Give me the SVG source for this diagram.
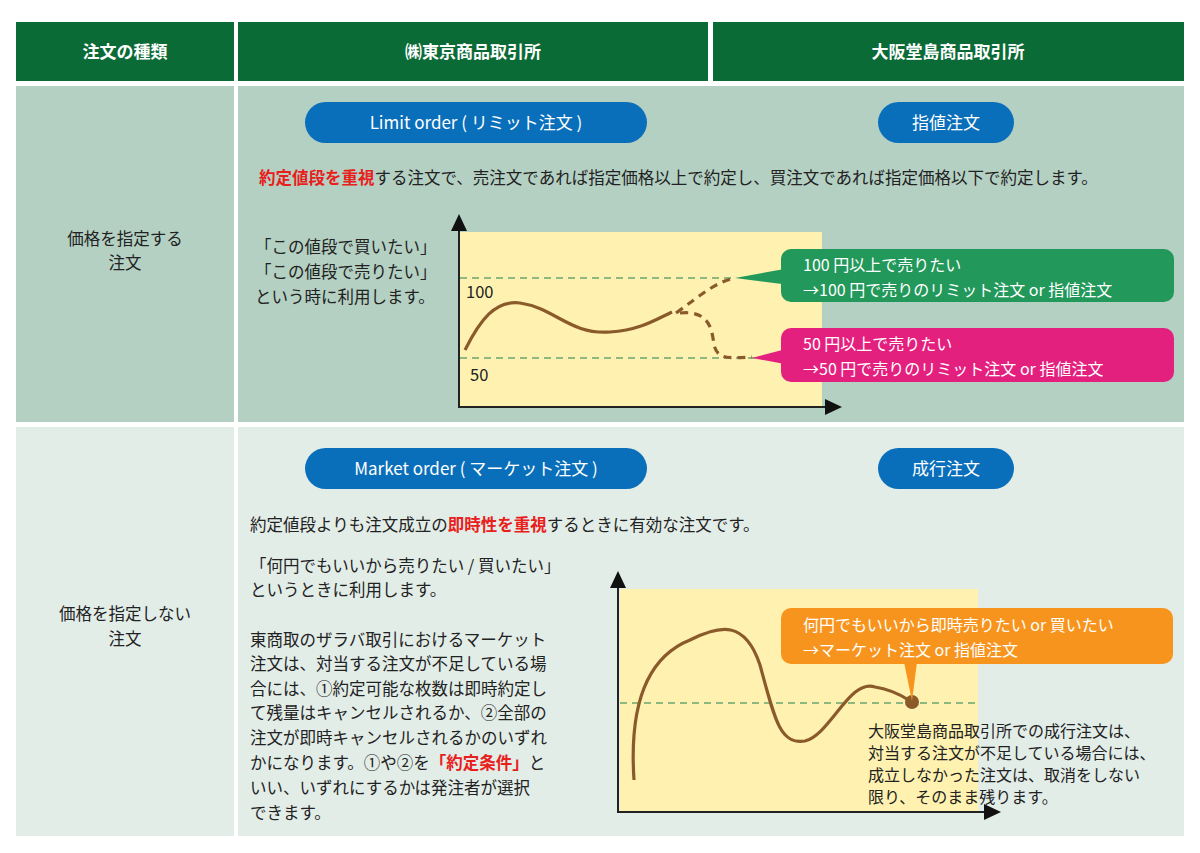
<svg xmlns="http://www.w3.org/2000/svg" width="1200" height="853" viewBox="0 0 1200 853">
<style>
text{font-family:"Noto Sans CJK JP","Noto Sans",sans-serif;font-size:16.5px;fill:#222}
.h{fill:#fff;font-weight:bold;font-size:17px}
.w{fill:#fff;font-size:17px}
.r{fill:#e8201c;font-weight:bold}
.ax{stroke:#222;stroke-width:2;fill:none}
.dash{stroke:#6aa56f;stroke-width:1.6;stroke-dasharray:7 5;fill:none}
.cur{stroke:#8b5a2b;stroke-width:3.2;fill:none}
.cd{stroke:#8b5a2b;stroke-width:3.2;fill:none;stroke-dasharray:8 6}
.pill{fill:#0a6fba}
</style>
<rect width="1200" height="853" fill="#fff"/>
<g id="header">
<rect x="16" y="22" width="218" height="59" fill="#0b6b36"/>
<rect x="238" y="22" width="470" height="59" fill="#0b6b36"/>
<rect x="713" y="22" width="471" height="59" fill="#0b6b36"/>
<text class="h" x="125" y="58" text-anchor="middle">注文の種類</text>
<text class="h" x="473" y="58" text-anchor="middle">㈱東京商品取引所</text>
<text class="h" x="948" y="58" text-anchor="middle">大阪堂島商品取引所</text>
</g>
<g id="row1">
<rect x="16" y="86" width="218" height="336" fill="#b4d0c3"/>
<rect x="238" y="86" width="946" height="336" fill="#b4d0c3"/>
<text x="125" y="245" text-anchor="middle">価格を指定する</text>
<text x="125" y="269" text-anchor="middle">注文</text>
<rect class="pill" x="305" y="102" width="342" height="41" rx="20.5"/>
<text class="w" x="476" y="129" text-anchor="middle">Limit order ( リミット注文 )</text>
<rect class="pill" x="878" y="102" width="136" height="41" rx="20.5"/>
<text class="w" x="946" y="129" text-anchor="middle">指値注文</text>
<text x="259" y="184"><tspan class="r">約定値段を重視</tspan>する注文で、売注文であれば指定価格以上で約定し、買注文であれば指定価格以下で約定します。</text>
<text x="255" y="253">「この値段で買いたい」</text>
<text x="255" y="278">「この値段で売りたい」</text>
<text x="255" y="303">という時に利用します。</text>
</g>
<g id="chart1">
<rect x="460" y="232" width="362" height="174" fill="#fff2b0"/>
<path class="ax" d="M459 230V407H826"/>
<path d="M451 231L459 214L467 231Z M825 399L842 407L825 415Z" fill="#111"/>
<path class="dash" d="M460 278H735 M460 358H760"/>
<text x="466" y="298">100</text>
<text x="470" y="381">50</text>
<path class="cur" d="M465 350C480 320 495 300 520 303C555 308 570 335 610 332C640 330 655 320 672 312"/>
<path class="cd" d="M676 313C700 296 715 282 735 278"/>
<path class="cd" d="M680 313C710 310 712 330 714 345C718 360 728 358 752 357"/>
</g>
<g id="callout100">
<path d="M790 268L735 278L790 285Z" fill="#22985a"/>
<rect x="781" y="249" width="393" height="53" rx="10" fill="#22985a"/>
<text class="w" x="803" y="271" style="font-size:16px">100 円以上で売りたい</text>
<text class="w" x="803" y="296" style="font-size:16px">→100 円で売りのリミット注文 or 指値注文</text>
</g>
<g id="callout50">
<path d="M790 348L752 358L790 365Z" fill="#e4207f"/>
<rect x="781" y="328" width="393" height="54" rx="10" fill="#e4207f"/>
<text class="w" x="803" y="350" style="font-size:16px">50 円以上で売りたい</text>
<text class="w" x="803" y="375" style="font-size:16px">→50 円で売りのリミット注文 or 指値注文</text>
</g>
<g id="row2">
<rect x="16" y="427" width="218" height="409" fill="#e3ede8"/>
<rect x="238" y="427" width="946" height="409" fill="#e3ede8"/>
<text x="125" y="620" text-anchor="middle">価格を指定しない</text>
<text x="125" y="645" text-anchor="middle">注文</text>
<rect class="pill" x="305" y="448" width="342" height="41" rx="20.5"/>
<text class="w" x="476" y="475" text-anchor="middle">Market order ( マーケット注文 )</text>
<rect class="pill" x="878" y="448" width="136" height="41" rx="20.5"/>
<text class="w" x="946" y="475" text-anchor="middle">成行注文</text>
<text x="250" y="531">約定値段よりも注文成立の<tspan class="r">即時性を重視</tspan>するときに有効な注文です。</text>
<text x="250" y="572">「何円でもいいから売りたい / 買いたい」</text>
<text x="250" y="596">というときに利用します。</text>
<text x="250" y="646">東商取のザラバ取引におけるマーケット</text>
<text x="250" y="670">注文は、対当する注文が不足している場</text>
<text x="250" y="695">合には、①約定可能な枚数は即時約定し</text>
<text x="250" y="719">て残量はキャンセルされるか、②全部の</text>
<text x="250" y="744">注文が即時キャンセルされるかのいずれ</text>
<text x="250" y="769">かになります。①や②を<tspan class="r">「約定条件」</tspan>と</text>
<text x="250" y="794">いい、いずれにするかは発注者が選択</text>
<text x="250" y="819">できます。</text>
</g>
<g id="chart2">
<rect x="620" y="589" width="358" height="222" fill="#fff2b0"/>
<path class="ax" d="M618 587V812H985"/>
<path d="M610 588L618 571L626 588Z M984 804L1001 812L984 820Z" fill="#111"/>
<path class="dash" d="M620 703H978"/>
<path class="cur" d="M634 780C630 720 640 660 690 640C720 625 745 620 760 665C775 720 780 745 805 741C830 735 850 678 875 687C895 690 905 698 912 702"/>
<circle cx="912" cy="702" r="7" fill="#8b5a2b"/>
</g>
<g id="callout-market">
<path d="M904 662L912 701L917 662Z" fill="#f7941d"/>
<rect x="781" y="608" width="392" height="56" rx="10" fill="#f7941d"/>
<text class="w" x="803" y="631" style="font-size:16px">何円でもいいから即時売りたい or 買いたい</text>
<text class="w" x="803" y="656" style="font-size:16px">→マーケット注文 or 指値注文</text>
<text x="868" y="737" style="font-size:16px">大阪堂島商品取引所での成行注文は、</text>
<text x="868" y="759" style="font-size:16px">対当する注文が不足している場合には、</text>
<text x="868" y="781" style="font-size:16px">成立しなかった注文は、取消をしない</text>
<text x="868" y="803" style="font-size:16px">限り、そのまま残ります。</text>
</g>
<g id="connectors"></g>
</svg>
